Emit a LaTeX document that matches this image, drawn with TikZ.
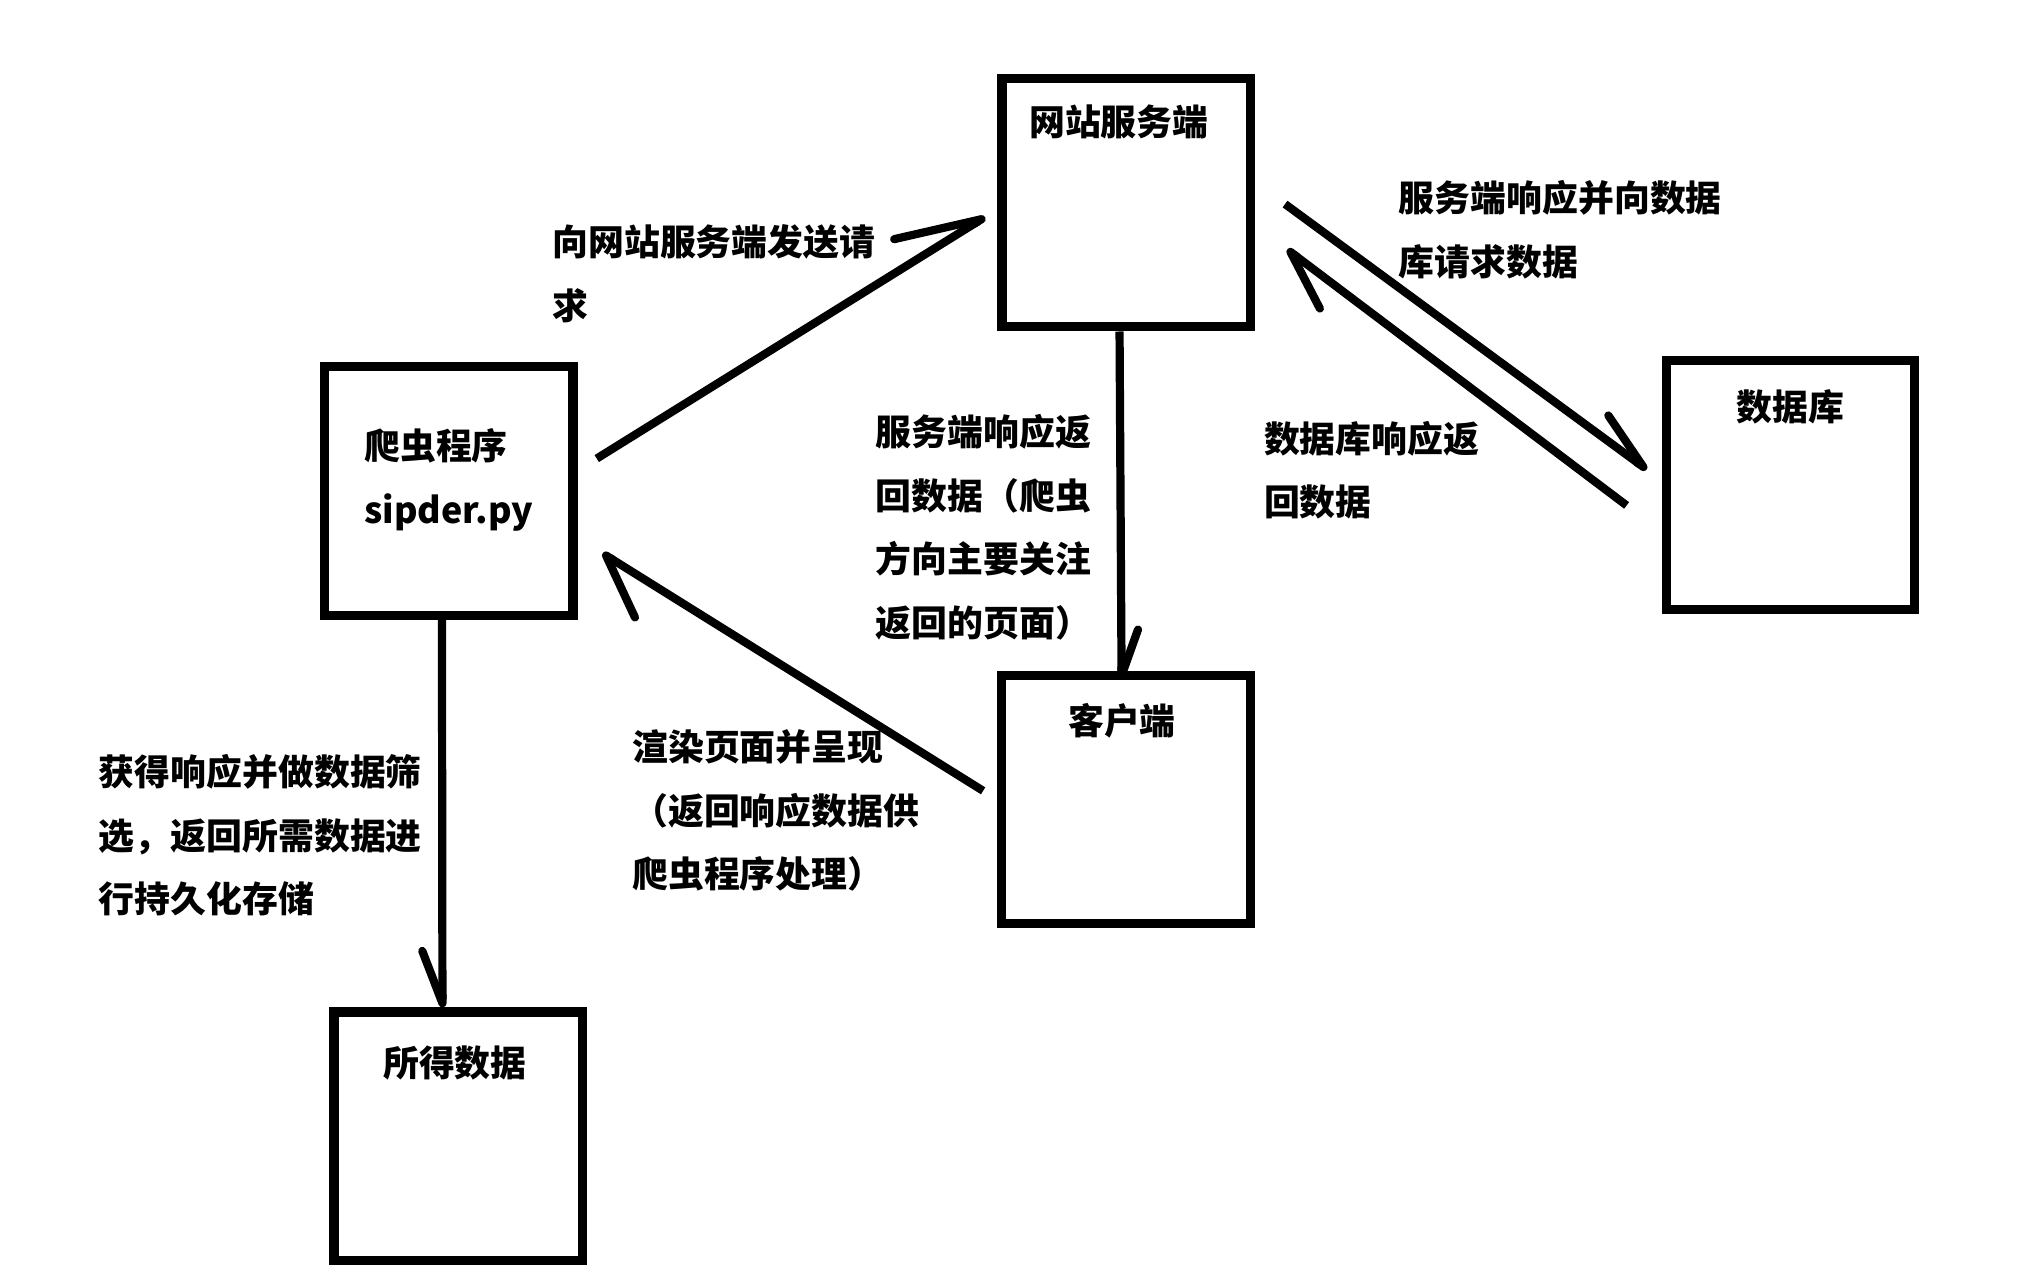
\documentclass[tikz,border=0pt]{standalone}
\usepackage{fontspec}
\setmainfont{Noto Sans CJK SC}
\usetikzlibrary{arrows.meta}

\tikzset{
    box/.style={rectangle, draw, line width=0.92mm, minimum size=24.85mm, inner sep=0pt},
    intext/.style={anchor=north, inner sep=0pt, yshift=#1},
    txt/.style={anchor=north west, inner sep=0pt, align=left},
    half/.style={line width=0.82mm, -{Straight Barb[harpoon, round, angle=#1]}},
    halfswap/.style={line width=0.82mm, -{Straight Barb[harpoon, swap, round, angle=#1]}}
}

\begin{document}
\begin{tikzpicture}[x=0.1308mm, y=-0.1308mm, font=\fontsize{10.2}{18.1}\selectfont\bfseries]
    \fill[white] (0, 0) rectangle (1562, 975);
    \useasboundingbox (0, 0) rectangle (1562, 975);

    % boxes
    \node[box, label={[intext=-3.02mm, xshift=-0.75mm]north:网站服务端}] (server) at (860.7, 154.8) {};
    \node[box, label={[intext=-6.6mm, align=left]north:{爬虫程序\\sipder.py}}] (spider) at (342.9, 375.1) {};
    \node[box, label={[intext=-3.32mm]north:数据库}] (db) at (1368.2, 370.5) {};
    \node[box, label={[intext=-3.23mm, xshift=-0.4mm]north:客户端}] (client) at (860.5, 611) {};
    \node[box, label={[intext=-3.8mm, xshift=-0.34mm]north:所得数据}] (data) at (350.2, 868.3) {};

    % texts
    \node[txt] (reqtxt) at (421.6, 171) {向网站服务端发送请\\求};
    \node[txt] (resptxt) at (668.7, 316.2) {服务端响应返\\回数据（爬虫\\方向主要关注\\返回的页面）};
    \node[txt] (dbreqtxt) at (1068.5, 137.2) {服务端响应并向数据\\库请求数据};
    \node[txt] (dbresptxt) at (965.4, 321.3) {数据库响应返\\回数据};
    \node[txt] (rendertxt) at (482.7, 557) {渲染页面并呈现\\（返回响应数据供\\爬虫程序处理）};
    \node[txt] (savetxt) at (75.1, 576) {获得响应并做数据筛\\选，返回所需数据进\\行持久化存储};

    % arrows
    \draw[half=38:8.96mm, shorten <=2.25mm, shorten >=1.45mm] (spider.9) -- (server.183);
    \draw[half=40:4.88mm, shorten >=-0.9mm] (server.267) -- (client.92);
    \draw[half=39:6.24mm, shorten <=3.7mm, shorten >=1.83mm] (server.9) -- (db.178);
    \draw[half=51:6.38mm, shorten <=4.37mm, shorten >=4mm] (db.200) -- (server.350);
    \draw[half=66:6.83mm, shorten <=1.65mm, shorten >=2.94mm] (client.180) -- (spider.340);
    \draw[halfswap=42:5.6mm] (spider.267) -- (data.97);
\end{tikzpicture}
\end{document}
